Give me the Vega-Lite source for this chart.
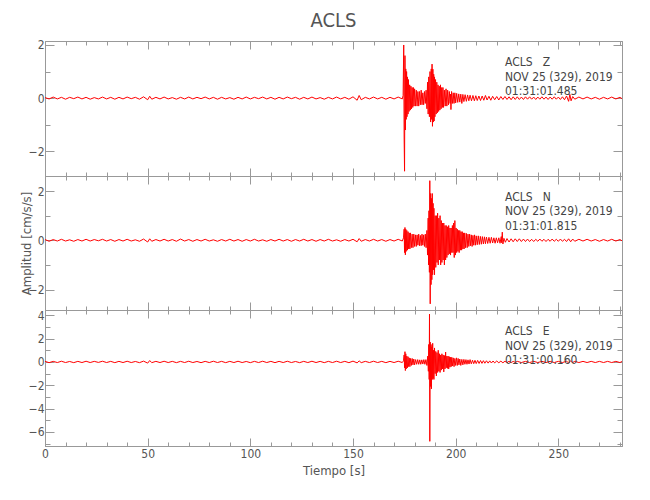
{
"$schema": "https://vega.github.io/schema/vega-lite/v6.json",
"padding": {"left": 19, "top": 10, "right": 20, "bottom": 10},
"spacing": 0,
"bounds": "flush",
"config": {
  "font": "DejaVu Sans Condensed, Liberation Sans, sans-serif",
  "view": {"stroke": "#999", "strokeWidth": 1},
  "axis": {"domainColor": "#999", "tickColor": "#999", "labelColor": "#555", "labelFont": "DejaVu Sans Condensed, Liberation Sans, sans-serif", "labelFontSize": 12, "titleFont": "DejaVu Sans Condensed, Liberation Sans, sans-serif", "titleFontSize": 13, "titleFontWeight": "normal", "titleColor": "#555", "grid": false, "labelFlush": false, "labelOverlap": false}
},
"datasets": {
"Z": [
{"t":0,"v":0.02},{"t":2,"v":-0.03},{"t":4,"v":0.04},{"t":6,"v":-0.03},{"t":8,"v":0.03},{"t":10,"v":-0.04},{"t":12,"v":0.03},{"t":14,"v":-0.02},{"t":16,"v":0.04},{"t":18,"v":-0.03},{"t":20,"v":0.03},{"t":22,"v":-0.04},{"t":24,"v":0.02},{"t":26,"v":-0.03},{"t":28,"v":0.04},{"t":30,"v":-0.03},{"t":32,"v":0.03},{"t":34,"v":-0.04},{"t":36,"v":0.03},{"t":38,"v":-0.03},{"t":40,"v":0.04},{"t":42,"v":-0.02},{"t":44,"v":0.03},{"t":46,"v":-0.04},{"t":48,"v":0.05},{"t":50,"v":-0.06},{"t":51,"v":0.07},{"t":52,"v":-0.04},{"t":54,"v":0.03},{"t":56,"v":-0.03},{"t":58,"v":0.04},{"t":60,"v":-0.03},{"t":62,"v":0.02},{"t":64,"v":-0.04},{"t":66,"v":0.03},{"t":68,"v":-0.03},{"t":70,"v":0.04},{"t":72,"v":-0.03},{"t":74,"v":0.03},{"t":76,"v":-0.02},{"t":78,"v":0.04},{"t":80,"v":-0.03},{"t":82,"v":0.03},{"t":84,"v":-0.04},{"t":86,"v":0.03},{"t":88,"v":-0.03},{"t":90,"v":0.02},{"t":92,"v":-0.04},{"t":94,"v":0.03},{"t":96,"v":-0.03},{"t":98,"v":0.04},{"t":100,"v":-0.03},{"t":102,"v":0.03},{"t":104,"v":-0.02},{"t":106,"v":0.04},{"t":108,"v":-0.03},{"t":110,"v":0.03},{"t":112,"v":-0.04},{"t":114,"v":0.03},{"t":116,"v":-0.03},{"t":118,"v":0.04},{"t":120,"v":-0.02},{"t":122,"v":0.03},{"t":124,"v":-0.04},{"t":126,"v":0.03},{"t":128,"v":-0.03},{"t":130,"v":0.04},{"t":132,"v":-0.03},{"t":134,"v":0.02},{"t":136,"v":-0.04},{"t":138,"v":0.03},{"t":140,"v":-0.03},{"t":142,"v":0.04},{"t":144,"v":-0.03},{"t":146,"v":0.03},{"t":148,"v":-0.04},{"t":150,"v":0.05},{"t":152,"v":-0.08},{"t":153,"v":0.1},{"t":154,"v":-0.06},{"t":156,"v":0.03},{"t":158,"v":-0.03},{"t":160,"v":0.04},{"t":162,"v":-0.03},{"t":164,"v":0.03},{"t":166,"v":-0.04},{"t":168,"v":0.03},{"t":170,"v":-0.03},{"t":172,"v":0.04},{"t":174,"v":-0.03},
{"t":174.4,"v":0.1},{"t":174.7,"v":2.0},{"t":174.9,"v":-1.5},{"t":175.1,"v":-2.75},{"t":175.3,"v":1.6},{"t":175.5,"v":-1.2},{"t":175.7,"v":1.1},{"t":175.9,"v":-0.8},{"t":176.1,"v":1.0},{"t":176.3,"v":-0.7},{"t":176.5,"v":0.8},{"t":176.8,"v":-0.6},{"t":177.0,"v":0.7},{"t":177.3,"v":-0.5},{"t":177.6,"v":0.5},{"t":177.9,"v":-0.45},{"t":178.2,"v":0.45},{"t":178.5,"v":-0.4},{"t":178.8,"v":0.4},{"t":179.1,"v":-0.35},{"t":179.4,"v":0.4},{"t":179.7,"v":-0.3},{"t":180.0,"v":0.35},{"t":180.4,"v":-0.3},{"t":180.8,"v":0.3},{"t":181.2,"v":-0.3},{"t":181.6,"v":0.25},{"t":182.0,"v":-0.3},{"t":182.4,"v":0.25},{"t":182.8,"v":-0.25},{"t":183.2,"v":0.3},{"t":183.6,"v":-0.25},{"t":184.0,"v":0.2},{"t":184.4,"v":-0.25},{"t":184.8,"v":0.25},{"t":185.2,"v":-0.2},{"t":185.6,"v":0.3},{"t":186.0,"v":-0.4},{"t":186.3,"v":0.6},{"t":186.6,"v":-0.6},{"t":186.9,"v":0.8},{"t":187.2,"v":-0.7},{"t":187.5,"v":1.0},{"t":187.8,"v":-0.9},{"t":188.1,"v":1.1},{"t":188.3,"v":-0.8},{"t":188.5,"v":1.28},{"t":188.7,"v":-1.06},{"t":188.9,"v":1.09},{"t":189.1,"v":-0.9},{"t":189.3,"v":0.9},{"t":189.5,"v":-0.86},{"t":189.7,"v":0.8},{"t":189.9,"v":-0.7},{"t":190.2,"v":0.7},{"t":190.5,"v":-0.6},{"t":190.8,"v":0.6},{"t":191.1,"v":-0.55},{"t":191.4,"v":0.5},{"t":191.7,"v":-0.5},{"t":192.0,"v":0.45},{"t":192.3,"v":-0.45},{"t":192.6,"v":0.5},{"t":192.9,"v":-0.4},{"t":193.2,"v":0.4},{"t":193.5,"v":-0.35},{"t":193.8,"v":0.4},{"t":194.1,"v":-0.35},{"t":194.5,"v":0.3},{"t":194.9,"v":-0.3},{"t":195.3,"v":0.35},{"t":195.7,"v":-0.3},{"t":196.1,"v":0.3},{"t":196.5,"v":-0.25},{"t":196.9,"v":0.25},{"t":197.3,"v":-0.2},{"t":197.5,"v":0.15},{"t":197.7,"v":-0.43},{"t":198.0,"v":0.25},{"t":198.4,"v":-0.2},{"t":198.8,"v":0.2},{"t":199.2,"v":-0.2},{"t":199.6,"v":0.2},{"t":200.0,"v":-0.18},{"t":200.5,"v":0.18},{"t":201.0,"v":-0.16},{"t":201.5,"v":0.16},{"t":202.0,"v":-0.15},{"t":202.5,"v":0.15},{"t":203.0,"v":-0.2},{"t":203.5,"v":0.14},{"t":204.0,"v":-0.13},{"t":204.6,"v":0.13},{"t":205.2,"v":-0.12},{"t":205.8,"v":0.12},{"t":206.4,"v":-0.1},{"t":207.0,"v":0.11},{"t":207.7,"v":-0.1},{"t":208.4,"v":0.1},{"t":209.1,"v":-0.1},{"t":209.8,"v":0.09},{"t":210.5,"v":-0.09},{"t":211.3,"v":0.08},{"t":212.1,"v":-0.09},{"t":212.9,"v":0.08},{"t":213.7,"v":-0.08},{"t":214.5,"v":0.1},{"t":215.3,"v":-0.07},{"t":216.2,"v":0.07},{"t":217.1,"v":-0.08},{"t":218.0,"v":0.07},{"t":219,"v":-0.06},{"t":220,"v":0.06},{"t":221,"v":-0.07},{"t":222,"v":0.06},{"t":223,"v":-0.05},{"t":224,"v":0.06},{"t":225,"v":-0.05},{"t":226,"v":0.05},{"t":227,"v":-0.06},{"t":228,"v":0.05},{"t":229,"v":-0.05},{"t":230,"v":0.05},{"t":231,"v":-0.05},{"t":232,"v":0.04},{"t":233,"v":-0.05},{"t":234,"v":0.05},{"t":235,"v":-0.04},{"t":236,"v":0.05},{"t":237,"v":-0.04},{"t":238,"v":0.04},{"t":239,"v":-0.05},{"t":240,"v":0.04},{"t":241,"v":-0.04},{"t":242,"v":0.05},{"t":243,"v":-0.04},{"t":244,"v":0.04},{"t":245,"v":-0.05},{"t":246,"v":0.04},{"t":247,"v":-0.04},{"t":248,"v":0.05},{"t":249,"v":-0.04},{"t":250,"v":0.04},{"t":251,"v":-0.05},{"t":252,"v":0.05},{"t":253,"v":-0.06},{"t":254,"v":0.08},{"t":255,"v":-0.12},{"t":255.6,"v":0.14},{"t":256.2,"v":-0.1},{"t":257,"v":0.06},{"t":258,"v":-0.04},{"t":260,"v":0.04},{"t":262,"v":-0.03},{"t":264,"v":0.04},{"t":266,"v":-0.03},{"t":268,"v":0.03},{"t":270,"v":-0.04},{"t":272,"v":0.03},{"t":274,"v":-0.03},{"t":276,"v":0.04},{"t":278,"v":-0.03},{"t":280,"v":0.03},{"t":281,"v":-0.02}
],
"N": [
{"t":0,"v":0.03},{"t":2,"v":-0.04},{"t":4,"v":0.03},{"t":6,"v":-0.03},{"t":8,"v":0.04},{"t":10,"v":-0.03},{"t":12,"v":0.02},{"t":14,"v":-0.04},{"t":16,"v":0.03},{"t":18,"v":-0.03},{"t":20,"v":0.04},{"t":22,"v":-0.03},{"t":24,"v":0.03},{"t":26,"v":-0.02},{"t":28,"v":0.04},{"t":30,"v":-0.03},{"t":32,"v":0.03},{"t":34,"v":-0.04},{"t":36,"v":0.03},{"t":38,"v":-0.03},{"t":40,"v":0.04},{"t":42,"v":-0.03},{"t":44,"v":0.02},{"t":46,"v":-0.04},{"t":48,"v":0.05},{"t":50,"v":-0.07},{"t":51,"v":0.06},{"t":52,"v":-0.04},{"t":54,"v":0.03},{"t":56,"v":-0.03},{"t":58,"v":0.04},{"t":60,"v":-0.03},{"t":62,"v":0.03},{"t":64,"v":-0.04},{"t":66,"v":0.05},{"t":68,"v":-0.03},{"t":70,"v":0.03},{"t":72,"v":-0.04},{"t":74,"v":0.03},{"t":76,"v":-0.03},{"t":78,"v":0.04},{"t":80,"v":-0.03},{"t":82,"v":0.02},{"t":84,"v":-0.04},{"t":86,"v":0.03},{"t":88,"v":-0.03},{"t":90,"v":0.04},{"t":92,"v":-0.03},{"t":94,"v":0.03},{"t":96,"v":-0.04},{"t":98,"v":0.03},{"t":100,"v":-0.03},{"t":102,"v":0.04},{"t":104,"v":-0.03},{"t":106,"v":0.02},{"t":108,"v":-0.04},{"t":110,"v":0.03},{"t":112,"v":-0.03},{"t":114,"v":0.04},{"t":116,"v":-0.03},{"t":118,"v":0.03},{"t":120,"v":-0.04},{"t":122,"v":0.03},{"t":124,"v":-0.03},{"t":126,"v":0.04},{"t":128,"v":-0.03},{"t":130,"v":0.03},{"t":132,"v":-0.04},{"t":134,"v":0.03},{"t":136,"v":-0.03},{"t":138,"v":0.04},{"t":140,"v":-0.03},{"t":142,"v":0.02},{"t":144,"v":-0.04},{"t":146,"v":0.03},{"t":148,"v":-0.03},{"t":150,"v":0.04},{"t":152,"v":-0.06},{"t":153,"v":0.07},{"t":154,"v":-0.04},{"t":156,"v":0.03},{"t":158,"v":-0.03},{"t":160,"v":0.04},{"t":162,"v":-0.03},{"t":164,"v":0.03},{"t":166,"v":-0.04},{"t":168,"v":0.03},{"t":170,"v":-0.03},{"t":172,"v":0.04},{"t":174,"v":-0.03},
{"t":174.6,"v":0.1},{"t":174.9,"v":0.45},{"t":175.1,"v":-0.5},{"t":175.3,"v":0.52},{"t":175.5,"v":-0.59},{"t":175.7,"v":0.45},{"t":175.9,"v":-0.45},{"t":176.2,"v":0.4},{"t":176.5,"v":-0.4},{"t":176.8,"v":0.35},{"t":177.1,"v":-0.35},{"t":177.4,"v":0.3},{"t":177.7,"v":-0.35},{"t":178.0,"v":0.3},{"t":178.4,"v":-0.3},{"t":178.8,"v":0.25},{"t":179.2,"v":-0.3},{"t":179.6,"v":0.25},{"t":180.0,"v":-0.25},{"t":180.4,"v":0.22},{"t":180.8,"v":-0.25},{"t":181.2,"v":0.22},{"t":181.6,"v":-0.2},{"t":182.0,"v":0.25},{"t":182.4,"v":-0.22},{"t":182.8,"v":0.2},{"t":183.2,"v":-0.22},{"t":183.6,"v":0.25},{"t":184.0,"v":-0.2},{"t":184.4,"v":0.22},{"t":184.8,"v":-0.25},{"t":185.2,"v":0.25},{"t":185.6,"v":-0.3},{"t":186.0,"v":0.4},{"t":186.3,"v":-0.6},{"t":186.6,"v":0.9},{"t":186.8,"v":-1.0},{"t":187.0,"v":1.2},{"t":187.2,"v":-1.3},{"t":187.4,"v":2.42},{"t":187.6,"v":-2.58},{"t":187.8,"v":1.9},{"t":188.0,"v":-1.8},{"t":188.2,"v":1.7},{"t":188.4,"v":-1.6},{"t":188.6,"v":1.9},{"t":188.8,"v":-1.4},{"t":189.0,"v":1.5},{"t":189.2,"v":-1.2},{"t":189.4,"v":1.3},{"t":189.7,"v":-1.4},{"t":190.0,"v":1.0},{"t":190.3,"v":-1.1},{"t":190.6,"v":1.0},{"t":190.9,"v":-0.9},{"t":191.2,"v":1.1},{"t":191.5,"v":-1.0},{"t":191.8,"v":0.9},{"t":192.1,"v":-0.8},{"t":192.4,"v":1.0},{"t":192.7,"v":-1.0},{"t":193.0,"v":0.8},{"t":193.3,"v":-0.9},{"t":193.6,"v":0.7},{"t":193.9,"v":-0.8},{"t":194.2,"v":0.7},{"t":194.5,"v":-1.0},{"t":194.8,"v":0.6},{"t":195.1,"v":-0.8},{"t":195.4,"v":0.6},{"t":195.7,"v":-0.7},{"t":196.0,"v":0.55},{"t":196.3,"v":-0.6},{"t":196.6,"v":0.6},{"t":196.9,"v":-0.55},{"t":197.2,"v":0.5},{"t":197.5,"v":-0.6},{"t":197.8,"v":0.5},{"t":198.1,"v":-0.5},{"t":198.4,"v":0.6},{"t":198.7,"v":-0.5},{"t":199.0,"v":0.7},{"t":199.3,"v":-0.7},{"t":199.6,"v":0.8},{"t":199.9,"v":-0.6},{"t":200.2,"v":0.5},{"t":200.5,"v":-0.5},{"t":200.8,"v":0.45},{"t":201.1,"v":-0.45},{"t":201.4,"v":0.4},{"t":201.7,"v":-0.5},{"t":202.0,"v":0.4},{"t":202.3,"v":-0.4},{"t":202.6,"v":0.35},{"t":202.9,"v":-0.4},{"t":203.2,"v":0.35},{"t":203.5,"v":-0.35},{"t":203.8,"v":0.3},{"t":204.1,"v":-0.35},{"t":204.4,"v":0.3},{"t":204.8,"v":-0.3},{"t":205.2,"v":0.28},{"t":205.6,"v":-0.3},{"t":206.0,"v":0.25},{"t":206.4,"v":-0.25},{"t":206.8,"v":0.25},{"t":207.2,"v":-0.22},{"t":207.6,"v":0.22},{"t":208.0,"v":-0.25},{"t":208.4,"v":0.2},{"t":208.8,"v":-0.2},{"t":209.2,"v":0.22},{"t":209.6,"v":-0.2},{"t":210.0,"v":0.18},{"t":210.5,"v":-0.18},{"t":211.0,"v":0.18},{"t":211.5,"v":-0.17},{"t":212.0,"v":0.16},{"t":212.5,"v":-0.16},{"t":213.0,"v":0.15},{"t":213.5,"v":-0.15},{"t":214.0,"v":0.14},{"t":214.5,"v":-0.14},{"t":215.0,"v":0.13},{"t":215.6,"v":-0.13},{"t":216.2,"v":0.12},{"t":216.8,"v":-0.12},{"t":217.4,"v":0.12},{"t":218.0,"v":-0.11},{"t":218.6,"v":0.1},{"t":219.2,"v":-0.12},{"t":219.8,"v":0.1},{"t":220.4,"v":-0.1},{"t":221.0,"v":0.1},{"t":221.6,"v":-0.12},{"t":222.2,"v":0.15},{"t":222.4,"v":-0.1},{"t":222.7,"v":0.33},{"t":223.0,"v":-0.15},{"t":223.5,"v":0.08},{"t":224.2,"v":-0.08},{"t":225,"v":0.07},{"t":226,"v":-0.07},{"t":227,"v":0.06},{"t":228,"v":-0.06},{"t":229,"v":0.06},{"t":230,"v":-0.05},{"t":231,"v":0.06},{"t":232,"v":-0.05},{"t":233,"v":0.05},{"t":234,"v":-0.05},{"t":235,"v":0.05},{"t":236,"v":-0.05},{"t":237,"v":0.04},{"t":238,"v":-0.05},{"t":239,"v":0.04},{"t":240,"v":-0.04},{"t":241,"v":0.05},{"t":242,"v":-0.04},{"t":243,"v":0.04},{"t":244,"v":-0.05},{"t":245,"v":0.04},{"t":246,"v":-0.04},{"t":247,"v":0.05},{"t":248,"v":-0.04},{"t":249,"v":0.04},{"t":250,"v":-0.04},{"t":251,"v":0.05},{"t":252,"v":-0.04},{"t":253,"v":0.04},{"t":254,"v":-0.05},{"t":255,"v":0.06},{"t":256,"v":-0.06},{"t":257,"v":0.05},{"t":258,"v":-0.04},{"t":260,"v":0.04},{"t":262,"v":-0.03},{"t":264,"v":0.04},{"t":266,"v":-0.03},{"t":268,"v":0.03},{"t":270,"v":-0.04},{"t":272,"v":0.03},{"t":274,"v":-0.03},{"t":276,"v":0.04},{"t":278,"v":-0.03},{"t":280,"v":0.03},{"t":281,"v":-0.02}
],
"E": [
{"t":0,"v":0.05},{"t":2,"v":-0.06},{"t":4,"v":0.05},{"t":6,"v":-0.05},{"t":8,"v":0.06},{"t":10,"v":-0.05},{"t":12,"v":0.04},{"t":14,"v":-0.06},{"t":16,"v":0.05},{"t":18,"v":-0.05},{"t":20,"v":0.06},{"t":22,"v":-0.05},{"t":24,"v":0.05},{"t":26,"v":-0.04},{"t":28,"v":0.06},{"t":30,"v":-0.05},{"t":32,"v":0.05},{"t":34,"v":-0.06},{"t":36,"v":0.05},{"t":38,"v":-0.05},{"t":40,"v":0.06},{"t":42,"v":-0.05},{"t":44,"v":0.04},{"t":46,"v":-0.06},{"t":48,"v":0.07},{"t":50,"v":-0.1},{"t":51,"v":0.12},{"t":52,"v":-0.06},{"t":54,"v":0.05},{"t":56,"v":-0.05},{"t":58,"v":0.06},{"t":60,"v":-0.05},{"t":62,"v":0.05},{"t":64,"v":-0.06},{"t":66,"v":0.05},{"t":68,"v":-0.05},{"t":70,"v":0.06},{"t":72,"v":-0.05},{"t":74,"v":0.04},{"t":76,"v":-0.06},{"t":78,"v":0.05},{"t":80,"v":-0.05},{"t":82,"v":0.06},{"t":84,"v":-0.05},{"t":86,"v":0.05},{"t":88,"v":-0.06},{"t":90,"v":0.05},{"t":92,"v":-0.05},{"t":94,"v":0.06},{"t":96,"v":-0.05},{"t":98,"v":0.04},{"t":100,"v":-0.06},{"t":102,"v":0.05},{"t":104,"v":-0.05},{"t":106,"v":0.06},{"t":108,"v":-0.05},{"t":110,"v":0.05},{"t":112,"v":-0.06},{"t":114,"v":0.05},{"t":116,"v":-0.05},{"t":118,"v":0.06},{"t":120,"v":-0.05},{"t":122,"v":0.04},{"t":124,"v":-0.06},{"t":126,"v":0.05},{"t":128,"v":-0.05},{"t":130,"v":0.06},{"t":132,"v":-0.05},{"t":134,"v":0.05},{"t":136,"v":-0.06},{"t":138,"v":0.05},{"t":140,"v":-0.05},{"t":142,"v":0.06},{"t":144,"v":-0.05},{"t":146,"v":0.05},{"t":148,"v":-0.06},{"t":150,"v":0.07},{"t":152,"v":-0.08},{"t":153,"v":0.09},{"t":154,"v":-0.06},{"t":156,"v":0.05},{"t":158,"v":-0.05},{"t":160,"v":0.06},{"t":162,"v":-0.05},{"t":164,"v":0.05},{"t":166,"v":-0.06},{"t":168,"v":0.05},{"t":170,"v":-0.05},{"t":172,"v":0.06},{"t":174,"v":-0.05},
{"t":174.6,"v":0.1},{"t":174.9,"v":0.6},{"t":175.1,"v":-0.5},{"t":175.3,"v":0.88},{"t":175.5,"v":-0.74},{"t":175.7,"v":0.7},{"t":175.9,"v":-0.6},{"t":176.2,"v":0.5},{"t":176.5,"v":-0.5},{"t":176.8,"v":0.45},{"t":177.1,"v":-0.4},{"t":177.4,"v":0.35},{"t":177.7,"v":-0.4},{"t":178.0,"v":0.3},{"t":178.4,"v":-0.3},{"t":178.8,"v":0.3},{"t":179.2,"v":-0.25},{"t":179.6,"v":0.25},{"t":180.0,"v":-0.25},{"t":180.5,"v":0.2},{"t":181.0,"v":-0.2},{"t":181.5,"v":0.2},{"t":182.0,"v":-0.2},{"t":182.5,"v":0.18},{"t":183.0,"v":-0.2},{"t":183.5,"v":0.18},{"t":184.0,"v":-0.18},{"t":184.5,"v":0.2},{"t":185.0,"v":-0.2},{"t":185.5,"v":0.2},{"t":186.0,"v":-0.3},{"t":186.4,"v":0.5},{"t":186.7,"v":-0.8},{"t":186.9,"v":1.5},{"t":187.1,"v":-1.5},{"t":187.25,"v":4.1},{"t":187.4,"v":-6.8},{"t":187.6,"v":1.7},{"t":187.8,"v":-2.1},{"t":188.0,"v":1.5},{"t":188.2,"v":-2.3},{"t":188.4,"v":1.3},{"t":188.6,"v":-1.5},{"t":188.8,"v":1.6},{"t":189.0,"v":-1.4},{"t":189.2,"v":1.0},{"t":189.4,"v":-1.5},{"t":189.7,"v":1.2},{"t":190.0,"v":-1.0},{"t":190.3,"v":0.9},{"t":190.6,"v":-1.2},{"t":190.9,"v":0.8},{"t":191.2,"v":-0.9},{"t":191.5,"v":1.0},{"t":191.8,"v":-0.8},{"t":192.1,"v":0.7},{"t":192.4,"v":-0.9},{"t":192.7,"v":0.6},{"t":193.0,"v":-0.7},{"t":193.3,"v":0.7},{"t":193.6,"v":-0.6},{"t":193.9,"v":0.6},{"t":194.2,"v":-0.85},{"t":194.5,"v":0.55},{"t":194.8,"v":-0.6},{"t":195.1,"v":0.85},{"t":195.4,"v":-0.5},{"t":195.7,"v":0.5},{"t":196.0,"v":-0.55},{"t":196.3,"v":0.5},{"t":196.6,"v":-0.6},{"t":196.9,"v":0.45},{"t":197.2,"v":-0.45},{"t":197.5,"v":0.4},{"t":197.8,"v":-0.4},{"t":198.1,"v":0.4},{"t":198.4,"v":-0.35},{"t":198.8,"v":0.35},{"t":199.2,"v":-0.4},{"t":199.6,"v":0.3},{"t":200.0,"v":-0.3},{"t":200.4,"v":0.35},{"t":200.8,"v":-0.3},{"t":201.2,"v":0.3},{"t":201.6,"v":-0.25},{"t":202.0,"v":0.25},{"t":202.5,"v":-0.3},{"t":203.0,"v":0.22},{"t":203.5,"v":-0.25},{"t":204.0,"v":0.22},{"t":204.5,"v":-0.2},{"t":205.0,"v":0.2},{"t":205.5,"v":-0.2},{"t":206.0,"v":0.18},{"t":206.5,"v":-0.18},{"t":207.0,"v":0.2},{"t":207.6,"v":-0.16},{"t":208.2,"v":0.15},{"t":208.8,"v":-0.15},{"t":209.4,"v":0.14},{"t":210.0,"v":-0.14},{"t":210.7,"v":0.13},{"t":211.4,"v":-0.13},{"t":212.1,"v":0.12},{"t":212.8,"v":-0.12},{"t":213.5,"v":0.11},{"t":214.2,"v":-0.11},{"t":215.0,"v":0.1},{"t":215.8,"v":-0.1},{"t":216.6,"v":0.09},{"t":217.4,"v":-0.09},{"t":218.2,"v":0.08},{"t":219,"v":-0.08},{"t":220,"v":0.08},{"t":221,"v":-0.07},{"t":222,"v":0.07},{"t":223,"v":-0.07},{"t":224,"v":0.06},{"t":225,"v":-0.06},{"t":226,"v":0.06},{"t":227,"v":-0.06},{"t":228,"v":0.05},{"t":229,"v":-0.05},{"t":230,"v":0.05},{"t":232,"v":-0.05},{"t":234,"v":0.05},{"t":236,"v":-0.05},{"t":238,"v":0.05},{"t":240,"v":-0.05},{"t":242,"v":0.05},{"t":244,"v":-0.05},{"t":246,"v":0.05},{"t":248,"v":-0.05},{"t":250,"v":0.05},{"t":252,"v":-0.05},{"t":254,"v":0.06},{"t":255,"v":-0.08},{"t":256,"v":0.08},{"t":257,"v":-0.05},{"t":258,"v":0.05},{"t":260,"v":-0.05},{"t":262,"v":0.05},{"t":264,"v":-0.05},{"t":266,"v":0.05},{"t":268,"v":-0.05},{"t":270,"v":0.05},{"t":272,"v":-0.05},{"t":274,"v":0.05},{"t":276,"v":-0.05},{"t":278,"v":0.05},{"t":280,"v":-0.05},{"t":281,"v":0.04}
]
},
"vconcat": [
{
  "width": 577, "height": 135,
  "title": {"text": "ACLS", "fontSize": 20, "font": "DejaVu Sans Condensed, Liberation Sans, sans-serif", "fontWeight": "normal", "color": "#555", "frame": "group", "anchor": "middle", "offset": 8},
  "layer": [
    {"data": {"name": "Z"}, "mark": {"type": "line", "color": "#ff0000", "strokeWidth": 1},
     "encoding": {
       "x": {"field": "t", "type": "quantitative", "scale": {"domain": [0, 281], "nice": false, "zero": false},
             "axis": {"orient": "bottom", "values": [0,10,20,30,40,50,60,70,80,90,100,110,120,130,140,150,160,170,180,190,200,210,220,230,240,250,260,270,280], "labels": false, "title": null, "tickSize": {"condition": {"test": "datum.value % 50 === 0", "value": -8}, "value": -4}}},
       "y": {"field": "v", "type": "quantitative", "scale": {"domain": [-2.93, 2.15], "nice": false, "zero": false},
             "axis": {"orient": "left", "values": [-2,-1,0,1,2], "labelExpr": "datum.value % 2 === 0 ? datum.label : ''", "title": null, "labelPadding": 10, "tickSize": {"condition": {"test": "datum.value % 2 === 0", "value": -9}, "value": -5}}}
     }},
    {"data": {"values": [{}]}, "mark": {"type": "text", "align": "left", "baseline": "middle", "fontSize": 12, "lineHeight": 14.3, "color": "#444", "font": "DejaVu Sans Condensed, Liberation Sans, sans-serif"},
     "encoding": {
       "x": {"datum": 224, "type": "quantitative", "axis": {"orient": "top", "values": [0,10,20,30,40,50,60,70,80,90,100,110,120,130,140,150,160,170,180,190,200,210,220,230,240,250,260,270,280], "labels": false, "title": null, "tickSize": {"condition": {"test": "datum.value % 50 === 0", "value": -8}, "value": -4}}},
       "y": {"datum": 1.35, "type": "quantitative", "axis": {"orient": "right", "values": [-2,-1,0,1,2], "labels": false, "title": null, "tickSize": {"condition": {"test": "datum.value % 2 === 0", "value": -9}, "value": -5}}},
       "text": {"value": ["ACLS\u00a0\u00a0\u00a0Z", "NOV 25 (329), 2019", "01:31:01.485"]}
     }}
  ],
  "resolve": {"axis": {"x": "independent", "y": "independent"}}
},
{
  "width": 577, "height": 134,
  "layer": [
    {"data": {"name": "N"}, "mark": {"type": "line", "color": "#ff0000", "strokeWidth": 1},
     "encoding": {
       "x": {"field": "t", "type": "quantitative", "scale": {"domain": [0, 281], "nice": false, "zero": false},
             "axis": {"orient": "bottom", "values": [0,10,20,30,40,50,60,70,80,90,100,110,120,130,140,150,160,170,180,190,200,210,220,230,240,250,260,270,280], "labels": false, "title": null, "tickSize": {"condition": {"test": "datum.value % 50 === 0", "value": -8}, "value": -4}}},
       "y": {"field": "v", "type": "quantitative", "scale": {"domain": [-2.83, 2.61], "nice": false, "zero": false},
             "axis": {"orient": "left", "values": [-2,-1,0,1,2], "labelExpr": "datum.value % 2 === 0 ? datum.label : ''", "title": "Amplitud [cm/s/s]", "titlePadding": -5, "labelPadding": 10, "tickSize": {"condition": {"test": "datum.value % 2 === 0", "value": -9}, "value": -5}}}
     }},
    {"data": {"values": [{}]}, "mark": {"type": "text", "align": "left", "baseline": "middle", "fontSize": 12, "lineHeight": 14.3, "color": "#444", "font": "DejaVu Sans Condensed, Liberation Sans, sans-serif"},
     "encoding": {
       "x": {"datum": 224, "type": "quantitative", "axis": {"orient": "top", "values": [0,10,20,30,40,50,60,70,80,90,100,110,120,130,140,150,160,170,180,190,200,210,220,230,240,250,260,270,280], "labels": false, "title": null, "tickSize": {"condition": {"test": "datum.value % 50 === 0", "value": -8}, "value": -4}}},
       "y": {"datum": 1.76, "type": "quantitative", "axis": {"orient": "right", "values": [-2,-1,0,1,2], "labels": false, "title": null, "tickSize": {"condition": {"test": "datum.value % 2 === 0", "value": -9}, "value": -5}}},
       "text": {"value": ["ACLS\u00a0\u00a0\u00a0N", "NOV 25 (329), 2019", "01:31:01.815"]}
     }}
  ],
  "resolve": {"axis": {"x": "independent", "y": "independent"}}
},
{
  "width": 577, "height": 136,
  "layer": [
    {"data": {"name": "E"}, "mark": {"type": "line", "color": "#ff0000", "strokeWidth": 1},
     "encoding": {
       "x": {"field": "t", "type": "quantitative", "scale": {"domain": [0, 281], "nice": false, "zero": false},
             "axis": {"orient": "bottom", "values": [0,10,20,30,40,50,60,70,80,90,100,110,120,130,140,150,160,170,180,190,200,210,220,230,240,250,260,270,280], "labelExpr": "datum.value % 50 === 0 ? datum.label : ''", "labelPadding": 10, "title": "Tiempo [s]", "titlePadding": 1, "tickSize": {"condition": {"test": "datum.value % 50 === 0", "value": -8}, "value": -4}}},
       "y": {"field": "v", "type": "quantitative", "scale": {"domain": [-7.2, 4.45], "nice": false, "zero": false},
             "axis": {"orient": "left", "values": [-7,-6,-5,-4,-3,-2,-1,0,1,2,3,4], "labelExpr": "datum.value % 2 === 0 ? datum.label : ''", "title": null, "labelPadding": 10, "tickSize": {"condition": {"test": "datum.value % 2 === 0", "value": -9}, "value": -5}}}
     }},
    {"data": {"values": [{}]}, "mark": {"type": "text", "align": "left", "baseline": "middle", "fontSize": 12, "lineHeight": 14.8, "color": "#444", "font": "DejaVu Sans Condensed, Liberation Sans, sans-serif"},
     "encoding": {
       "x": {"datum": 224, "type": "quantitative", "axis": {"orient": "top", "values": [0,10,20,30,40,50,60,70,80,90,100,110,120,130,140,150,160,170,180,190,200,210,220,230,240,250,260,270,280], "labels": false, "title": null, "tickSize": {"condition": {"test": "datum.value % 50 === 0", "value": -8}, "value": -4}}},
       "y": {"datum": 2.66, "type": "quantitative", "axis": {"orient": "right", "values": [-7,-6,-5,-4,-3,-2,-1,0,1,2,3,4], "labels": false, "title": null, "tickSize": {"condition": {"test": "datum.value % 2 === 0", "value": -9}, "value": -5}}},
       "text": {"value": ["ACLS\u00a0\u00a0\u00a0E", "NOV 25 (329), 2019", "01:31:00.160"]}
     }}
  ],
  "resolve": {"axis": {"x": "independent", "y": "independent"}}
}
]
}
